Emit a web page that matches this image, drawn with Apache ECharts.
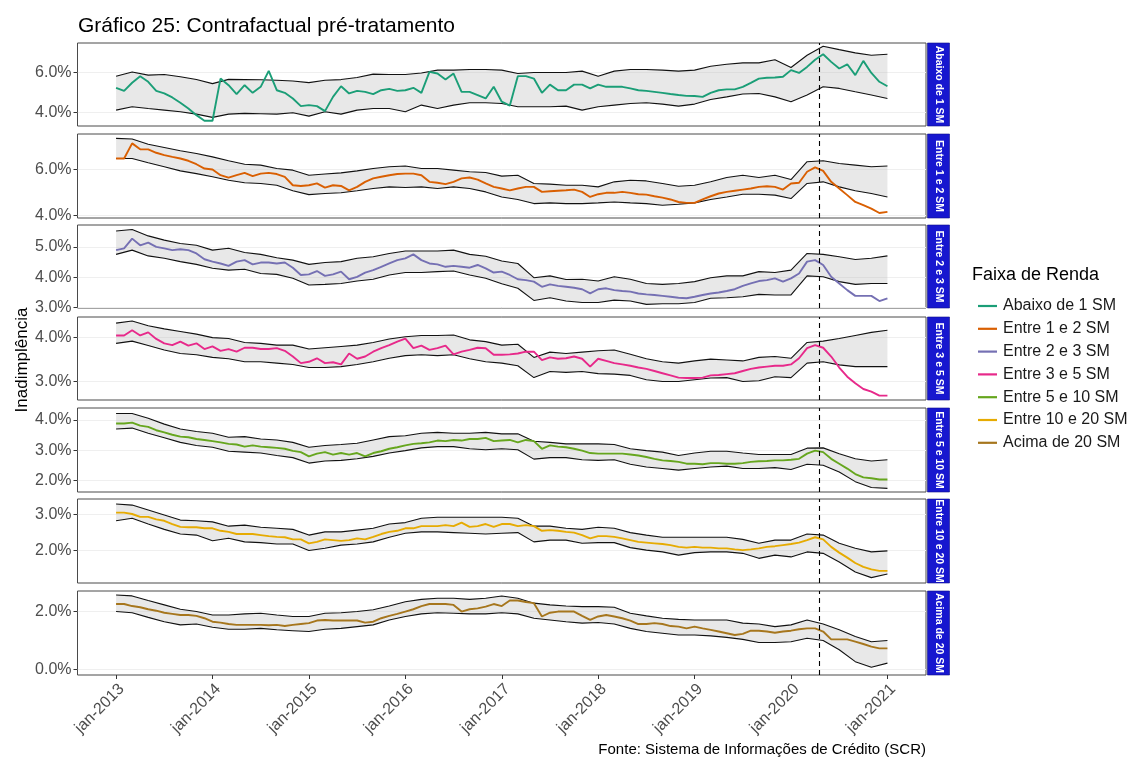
<!DOCTYPE html>
<html>
<head>
<meta charset="utf-8">
<script src="https://cdn.jsdelivr.net/npm/echarts@6/dist/echarts.min.js"></script>
<style>
  html, body { margin: 0; padding: 0; background: #ffffff; }
  #chart { width: 1128px; height: 758px; }
</style>
</head>
<body>
<div id="chart"></div>
<script>
// ---- Eixo temporal: meses desde jan-2013 (0..96) ----
const tickLabels = ['jan-2013', 'jan-2014', 'jan-2015', 'jan-2016', 'jan-2017',
                    'jan-2018', 'jan-2019', 'jan-2020', 'jan-2021'];
const mesTratamento = 87.5; // abril de 2020

const faixas = ['Abaixo de 1 SM', 'Entre 1 e 2 SM', 'Entre 2 e 3 SM', 'Entre 3 e 5 SM',
                'Entre 5 e 10 SM', 'Entre 10 e 20 SM', 'Acima de 20 SM'];
const cores = ['#1B9E77', '#D95F02', '#7570B3', '#E7298A', '#66A61E', '#E6AB02', '#A6761D'];

// ---- Inadimplência observada (%), mensal ----
const obsAbaixo1 = [
  5.24,5.09,5.49,5.82,5.54,5.09,4.96,4.76,4.50,4.21,3.88,3.60,
  3.60,5.70,5.37,4.93,5.37,4.99,5.29,6.08,5.12,4.99,4.71,4.33,
  4.38,4.33,4.08,4.79,5.32,4.96,5.09,5.04,4.93,5.12,5.19,5.09,
  5.12,5.24,4.99,6.03,5.95,5.65,5.95,5.04,5.04,4.88,4.71,5.29,
  4.55,4.35,5.82,5.82,5.70,4.99,5.40,5.12,5.12,5.40,5.40,5.21,
  5.40,5.29,5.29,5.29,5.21,5.12,5.09,5.04,4.99,4.93,4.88,4.84,
  4.83,4.79,4.99,5.12,5.16,5.16,5.29,5.49,5.70,5.74,5.75,5.79,
  6.12,5.98,6.28,6.64,6.91,6.53,6.20,6.41,5.87,6.58,5.98,5.54,5.32];
const obsEntre1e2 = [
  6.48,6.48,7.14,6.88,6.88,6.73,6.63,6.55,6.48,6.38,6.23,6.04,
  6.00,5.75,5.64,5.75,5.85,5.71,5.82,5.85,5.80,5.68,5.31,5.28,
  5.31,5.39,5.21,5.31,5.28,5.09,5.24,5.46,5.61,5.68,5.75,5.80,
  5.82,5.82,5.75,5.46,5.42,5.36,5.46,5.61,5.65,5.56,5.39,5.24,
  5.17,5.09,5.17,5.24,5.24,5.02,5.05,5.07,5.09,5.12,5.02,4.80,
  4.92,4.98,4.98,5.02,4.98,4.92,4.90,4.83,4.77,4.69,4.58,4.54,
  4.54,4.69,4.83,4.95,5.02,5.07,5.12,5.17,5.24,5.27,5.24,5.12,
  5.39,5.42,5.90,6.09,5.94,5.46,5.17,4.88,4.58,4.44,4.29,4.10,4.15];
const obsEntre2e3 = [
  4.89,4.95,5.27,5.05,5.14,5.00,4.95,4.89,4.92,4.89,4.78,4.59,
  4.51,4.45,4.37,4.51,4.56,4.42,4.48,4.48,4.45,4.48,4.31,4.07,
  4.09,4.20,4.04,4.09,4.18,3.93,4.01,4.15,4.23,4.34,4.45,4.56,
  4.62,4.75,4.56,4.45,4.42,4.34,4.37,4.34,4.31,4.40,4.29,4.15,
  4.18,4.07,3.93,3.90,3.85,3.68,3.76,3.71,3.68,3.65,3.60,3.46,
  3.60,3.63,3.57,3.54,3.52,3.46,3.43,3.41,3.38,3.35,3.32,3.30,
  3.35,3.41,3.46,3.49,3.54,3.60,3.71,3.79,3.87,3.90,3.96,3.85,
  3.96,4.12,4.51,4.56,4.40,4.01,3.79,3.57,3.38,3.38,3.38,3.21,3.30];
const obsEntre3e5 = [
  4.05,4.05,4.17,4.05,4.12,3.97,3.87,3.83,3.91,3.82,3.87,3.74,
  3.80,3.70,3.74,3.68,3.77,3.77,3.74,3.74,3.76,3.70,3.57,3.42,
  3.45,3.53,3.42,3.44,3.39,3.64,3.52,3.57,3.68,3.76,3.83,3.91,
  3.98,3.76,3.82,3.72,3.76,3.82,3.62,3.68,3.72,3.77,3.76,3.61,
  3.61,3.62,3.64,3.68,3.68,3.49,3.55,3.52,3.53,3.57,3.52,3.34,
  3.52,3.47,3.42,3.39,3.36,3.32,3.29,3.24,3.19,3.14,3.09,3.08,
  3.08,3.09,3.14,3.15,3.17,3.19,3.24,3.29,3.32,3.34,3.36,3.36,
  3.39,3.53,3.76,3.83,3.77,3.57,3.32,3.11,2.96,2.83,2.77,2.68,2.68];
const obsEntre5e10 = [
  3.88,3.88,3.91,3.81,3.77,3.66,3.59,3.51,3.45,3.43,3.37,3.34,
  3.30,3.26,3.21,3.19,3.12,3.16,3.12,3.10,3.08,3.05,2.98,2.94,
  2.80,2.89,2.94,2.86,2.91,2.86,2.91,2.80,2.91,2.97,3.05,3.10,
  3.16,3.21,3.23,3.26,3.32,3.30,3.34,3.32,3.37,3.37,3.41,3.30,
  3.32,3.34,3.26,3.34,3.30,3.05,3.16,3.12,3.10,3.05,2.99,2.91,
  2.89,2.89,2.89,2.89,2.86,2.83,2.78,2.72,2.67,2.65,2.62,2.56,
  2.56,2.54,2.58,2.58,2.56,2.56,2.58,2.62,2.64,2.65,2.67,2.67,
  2.69,2.72,2.89,2.99,2.94,2.72,2.56,2.40,2.22,2.11,2.08,2.04,2.04];
const obsEntre10e20 = [
  3.05,3.05,3.01,2.93,2.93,2.86,2.82,2.73,2.65,2.64,2.64,2.61,
  2.61,2.54,2.51,2.45,2.45,2.45,2.42,2.39,2.37,2.36,2.30,2.30,
  2.19,2.23,2.30,2.28,2.26,2.28,2.33,2.30,2.37,2.45,2.51,2.54,
  2.61,2.61,2.67,2.67,2.67,2.70,2.67,2.77,2.65,2.67,2.73,2.65,
  2.73,2.73,2.67,2.70,2.67,2.54,2.56,2.54,2.51,2.49,2.42,2.33,
  2.39,2.39,2.37,2.33,2.28,2.23,2.21,2.19,2.17,2.14,2.09,2.07,
  2.09,2.07,2.07,2.05,2.05,2.02,2.00,2.02,2.05,2.09,2.11,2.14,
  2.17,2.21,2.28,2.36,2.30,2.09,1.93,1.79,1.64,1.53,1.46,1.42,1.42];
const obsAcima20 = [
  2.25,2.25,2.18,2.14,2.07,2.02,1.95,1.91,1.87,1.87,1.84,1.76,
  1.64,1.61,1.56,1.53,1.53,1.53,1.53,1.52,1.53,1.49,1.53,1.56,
  1.59,1.68,1.70,1.68,1.68,1.68,1.68,1.61,1.64,1.76,1.84,1.91,
  1.99,2.07,2.18,2.25,2.25,2.25,2.22,1.99,2.07,2.10,2.16,2.25,
  2.18,2.37,2.37,2.32,2.28,1.82,1.95,1.99,1.99,1.99,1.84,1.70,
  1.82,1.87,1.82,1.76,1.68,1.56,1.56,1.59,1.56,1.49,1.47,1.41,
  1.47,1.41,1.36,1.30,1.24,1.18,1.22,1.33,1.33,1.30,1.26,1.30,
  1.33,1.38,1.41,1.41,1.30,1.03,1.03,1.03,0.95,0.87,0.78,0.72,0.72];

// ---- Contrafactual: limites superior e inferior (%), a cada dois meses ----
const passoBanda = 2;
const supAbaixo1 = [5.82,6.03,5.87,5.90,5.79,5.65,5.45,5.66,5.65,5.64, 5.62,5.58,5.50,5.62,5.65,5.75,5.92,5.90,5.90,5.98,
  6.12,6.12,6.15,6.15,6.12,5.95,6.00,6.00,6.00,6.07, 5.82,6.07,6.15,6.15,6.12,6.07,6.12,6.31,6.41,6.48,
  6.48,6.64,6.25,6.86,7.31,7.14,6.98,6.86,6.91];
const infAbaixo1 = [4.13,4.30,4.21,4.13,4.05,3.93,3.77,3.93,3.97,3.95, 3.93,4.00,3.83,4.05,3.93,4.13,4.21,4.21,4.05,4.38,
  4.21,4.38,4.50,4.50,4.46,4.30,4.30,4.30,4.33,4.13, 4.30,4.38,4.46,4.50,4.43,4.33,4.43,4.66,4.79,4.93,
  4.96,4.79,4.55,4.88,5.29,5.21,5.04,4.88,4.71];
const supEntre1e2 = [7.36,7.33,7.10,6.96,6.82,6.70,6.55,6.38,6.23,6.19, 6.04,5.97,5.75,5.80,5.85,5.94,6.04,6.12,6.15,6.04,
  6.04,5.97,5.90,5.87,5.71,5.75,5.39,5.36,5.31,5.31, 5.24,5.46,5.53,5.50,5.39,5.27,5.31,5.46,5.65,5.75,
  5.65,5.75,5.56,6.34,6.38,6.26,6.19,6.12,6.15];
const infEntre1e2 = [6.48,6.48,6.29,6.12,5.94,5.82,5.68,5.53,5.42,5.39, 5.31,5.07,4.90,4.95,4.98,5.07,5.17,5.24,5.21,5.24,
  5.17,5.24,5.17,5.02,4.80,4.69,4.51,4.54,4.51,4.51, 4.54,4.58,4.54,4.51,4.44,4.48,4.54,4.69,4.80,4.92,
  4.92,4.88,4.73,5.39,5.46,5.24,5.07,4.95,4.80];
const supEntre2e3 = [5.52,5.57,5.36,5.22,5.11,5.05,4.89,4.95,4.81,4.75, 4.64,4.56,4.42,4.48,4.51,4.62,4.67,4.78,4.86,4.86,
  4.86,4.89,4.75,4.69,4.53,4.45,3.98,4.04,3.92,3.93, 3.87,4.01,3.93,3.79,3.76,3.79,3.85,3.98,4.04,4.04,
  4.18,4.15,4.23,4.78,4.75,4.67,4.58,4.62,4.70];
const infEntre2e3 = [4.75,4.89,4.70,4.62,4.51,4.42,4.29,4.23,4.26,4.12, 4.09,3.96,3.74,3.76,3.79,3.87,3.93,4.07,4.15,4.15,
  4.18,4.20,4.07,3.96,3.78,3.63,3.23,3.32,3.21,3.16, 3.16,3.24,3.21,3.10,3.12,3.12,3.16,3.30,3.32,3.35,
  3.43,3.41,3.41,4.04,4.01,3.85,3.76,3.79,3.79];
const supEntre3e5 = [4.33,4.38,4.27,4.20,4.14,4.08,4.00,3.98,3.89,3.87, 3.83,3.83,3.74,3.77,3.80,3.83,3.89,3.97,4.02,4.05,
  4.05,4.06,3.95,3.91,3.83,3.85,3.55,3.67,3.64,3.67, 3.70,3.72,3.62,3.52,3.45,3.42,3.47,3.51,3.49,3.47,
  3.55,3.57,3.53,3.89,3.92,3.98,4.05,4.12,4.17];
const infEntre3e5 = [3.87,3.92,3.82,3.72,3.64,3.61,3.55,3.52,3.45,3.45, 3.42,3.39,3.32,3.32,3.34,3.39,3.45,3.53,3.59,3.61,
  3.59,3.61,3.52,3.45,3.42,3.36,3.09,3.23,3.21,3.23, 3.18,3.17,3.14,3.04,3.00,3.00,3.04,3.08,3.09,3.00,
  3.02,3.11,3.09,3.42,3.45,3.38,3.34,3.34,3.34];
const supEntre5e10 = [4.21,4.21,4.05,3.86,3.70,3.62,3.56,3.43,3.45,3.37, 3.34,3.26,3.10,3.16,3.19,3.23,3.34,3.45,3.48,3.56,
  3.59,3.56,3.56,3.59,3.54,3.54,3.30,3.26,3.21,3.21, 3.21,3.19,3.05,2.99,2.94,2.83,2.91,2.97,2.97,2.91,
  2.86,2.86,2.86,3.07,3.08,2.89,2.72,2.65,2.69];
const infEntre5e10 = [3.70,3.73,3.56,3.41,3.26,3.16,3.10,2.97,2.94,2.91, 2.83,2.76,2.58,2.65,2.67,2.72,2.80,2.91,2.99,3.08,
  3.12,3.12,3.05,3.02,3.05,3.02,2.71,2.76,2.76,2.69, 2.67,2.69,2.54,2.45,2.40,2.35,2.40,2.45,2.48,2.40,
  2.40,2.43,2.37,2.54,2.51,2.29,1.97,1.78,1.75];
const supEntre10e20 = [3.29,3.26,3.12,2.98,2.84,2.82,2.79,2.67,2.70,2.64, 2.61,2.58,2.42,2.51,2.51,2.56,2.61,2.73,2.77,2.89,
  2.92,2.92,2.92,2.92,2.92,2.89,2.67,2.67,2.61,2.58, 2.64,2.61,2.49,2.42,2.36,2.36,2.36,2.36,2.36,2.30,
  2.19,2.28,2.28,2.45,2.42,2.19,2.05,1.95,1.98];
const infEntre10e20 = [2.82,2.89,2.73,2.58,2.45,2.42,2.26,2.33,2.23,2.21, 2.17,2.17,1.99,2.05,2.14,2.17,2.23,2.36,2.47,2.51,
  2.51,2.49,2.47,2.45,2.47,2.49,2.23,2.28,2.28,2.19, 2.21,2.21,2.07,2.00,1.95,1.86,1.93,1.95,1.95,1.91,
  1.77,1.86,1.81,1.95,1.91,1.67,1.39,1.23,1.33];
const supAcima20 = [2.56,2.53,2.37,2.22,2.07,1.99,1.87,1.87,1.91,1.93, 1.87,1.82,1.82,1.93,1.95,1.99,2.05,2.18,2.33,2.41,
  2.45,2.45,2.41,2.45,2.53,2.45,2.28,2.22,2.18,2.16, 2.16,2.14,1.93,1.84,1.76,1.72,1.70,1.70,1.70,1.59,
  1.56,1.47,1.53,1.70,1.56,1.36,1.13,0.95,0.99];
const infAcima20 = [1.99,1.95,1.79,1.64,1.53,1.56,1.45,1.38,1.38,1.41, 1.36,1.33,1.30,1.38,1.41,1.47,1.53,1.70,1.82,1.91,
  1.95,1.93,1.91,1.91,1.95,1.91,1.76,1.70,1.64,1.59, 1.61,1.56,1.41,1.30,1.24,1.18,1.18,1.15,1.10,1.03,
  0.92,0.92,0.95,1.07,0.99,0.67,0.26,0.07,0.21];

// ---- Escalas verticais de cada painel ----
const yTicks = [[4, 6], [4, 6], [3, 4, 5], [3, 4], [2, 3, 4], [2, 3], [0, 2]];
const yRange = [[3.34, 7.47], [3.88, 7.55], [2.98, 5.72], [2.58, 4.47], [1.63, 4.39], [1.08, 3.43], [-0.2, 2.70]];

const observado = [obsAbaixo1, obsEntre1e2, obsEntre2e3, obsEntre3e5, obsEntre5e10, obsEntre10e20, obsAcima20];
const superior  = [supAbaixo1, supEntre1e2, supEntre2e3, supEntre3e5, supEntre5e10, supEntre10e20, supAcima20];
const inferior  = [infAbaixo1, infEntre1e2, infEntre2e3, infEntre3e5, infEntre5e10, infEntre10e20, infAcima20];

// ---- Layout dos painéis ----
const FONT = '"Liberation Sans", Arial, Helvetica, sans-serif';
const plotLeft = 77.5, plotWidth = 848.5;
const panelTop = [43, 134, 225, 317, 408, 499, 591];
const panelHeight = [83, 84, 83, 83, 84, 84, 84];
const nPanels = faixas.length;
const tickPos = tickLabels.map((_, i) => i * 12);

const grids = [], xAxes = [], yAxes = [], series = [], graphics = [];

for (let k = 0; k < nPanels; k++) {
  const last = k === nPanels - 1;
  grids.push({
    left: plotLeft, width: plotWidth, top: panelTop[k], height: panelHeight[k],
    show: true, backgroundColor: '#ffffff', borderColor: '#4a4a4a', borderWidth: 1
  });
  xAxes.push({
    type: 'value', gridIndex: k, min: -4.8, max: 100.8, position: 'bottom',
    axisLine: { show: false, onZero: false },
    splitLine: { show: false },
    axisTick: { show: last, customValues: tickPos, length: 4, lineStyle: { color: '#333333' } },
    axisLabel: {
      show: last, customValues: tickPos, rotate: 45, margin: 6,
      align: 'right', verticalAlign: 'top',
      formatter: v => tickLabels[Math.round(v / 12)],
      fontFamily: FONT, fontSize: 16, color: '#4d4d4d'
    }
  });
  yAxes.push({
    type: 'value', gridIndex: k, min: yRange[k][0], max: yRange[k][1], position: 'left',
    axisLine: { show: false, onZero: false },
    axisTick: { show: true, customValues: yTicks[k], length: 4, lineStyle: { color: '#333333' } },
    axisLabel: {
      customValues: yTicks[k], margin: 6,
      formatter: v => v.toFixed(1) + '%',
      fontFamily: FONT, fontSize: 16, color: '#4d4d4d'
    },
    splitLine: { show: true, lineStyle: { color: '#efefef', width: 1 } }
  });

  const lo = inferior[k], hi = superior[k];
  const bandX = j => j * passoBanda;

  // faixa cinza entre os limites do contrafactual
  series.push({
    type: 'custom', xAxisIndex: k, yAxisIndex: k, silent: true, clip: true, z: 1,
    data: [[0, yRange[k][0]]],
    renderItem: (params, api) => {
      const pts = [];
      for (let j = 0; j < lo.length; j++) pts.push(api.coord([bandX(j), lo[j]]));
      for (let j = hi.length - 1; j >= 0; j--) pts.push(api.coord([bandX(j), hi[j]]));
      return { type: 'polygon', shape: { points: pts }, style: { fill: 'rgba(185,185,185,0.32)' } };
    }
  });
  // limites inferior e superior
  [lo, hi].forEach(arr => {
    series.push({
      type: 'line', xAxisIndex: k, yAxisIndex: k,
      data: arr.map((v, j) => [bandX(j), v]), symbol: 'none', silent: true,
      lineStyle: { color: '#111111', width: 1.1 }, z: 2
    });
  });
  // série observada
  series.push({
    name: faixas[k], type: 'line', xAxisIndex: k, yAxisIndex: k,
    data: observado[k].map((v, i) => [i, v]), symbol: 'none',
    color: cores[k], lineStyle: { color: cores[k], width: 1.9 }, z: 3,
    markLine: {
      silent: true, symbol: 'none', label: { show: false },
      lineStyle: { color: '#000000', width: 1.1, type: [5, 4] },
      data: [{ xAxis: mesTratamento }]
    }
  });

  // faixa lateral com o nome do painel
  const stripX = plotLeft + plotWidth + 1.5, stripW = 22;
  graphics.push({
    type: 'rect', shape: { x: stripX, y: panelTop[k], width: stripW, height: panelHeight[k] },
    style: { fill: '#1717cf', stroke: '#0d0d8a', lineWidth: 0.6 }
  });
  graphics.push({
    type: 'text', x: stripX + stripW / 2, y: panelTop[k] + panelHeight[k] / 2, rotation: -Math.PI / 2,
    style: {
      text: faixas[k], fill: '#ffffff', font: 'bold 10.5px ' + FONT,
      textAlign: 'center', textVerticalAlign: 'middle', align: 'center', verticalAlign: 'middle'
    }
  });
}

// títulos e textos
graphics.push({
  type: 'text', x: 78, y: 26,
  style: { text: 'Gráfico 25: Contrafactual pré-tratamento', fill: '#000000', font: '21px ' + FONT,
           textAlign: 'left', textVerticalAlign: 'middle', align: 'left', verticalAlign: 'middle' }
});
graphics.push({
  type: 'text', x: 22, y: 360, rotation: Math.PI / 2,
  style: { text: 'Inadimplência', fill: '#000000', font: '17px ' + FONT,
           textAlign: 'center', textVerticalAlign: 'middle', align: 'center', verticalAlign: 'middle' }
});
graphics.push({
  type: 'text', x: 972, y: 275,
  style: { text: 'Faixa de Renda', fill: '#000000', font: '18px ' + FONT,
           textAlign: 'left', textVerticalAlign: 'middle', align: 'left', verticalAlign: 'middle' }
});
graphics.push({
  type: 'text', x: 926, y: 750,
  style: { text: 'Fonte: Sistema de Informações de Crédito (SCR)', fill: '#000000', font: '15px ' + FONT,
           textAlign: 'right', textVerticalAlign: 'middle', align: 'right', verticalAlign: 'middle' }
});

const chart = echarts.init(document.getElementById('chart'), null, { renderer: 'canvas' });
chart.setOption({
  animation: false,
  backgroundColor: '#ffffff',
  grid: grids,
  xAxis: xAxes,
  yAxis: yAxes,
  legend: {
    data: faixas, orient: 'vertical', left: 973, top: 293,
    icon: 'rect', itemWidth: 19, itemHeight: 2.2, itemGap: 6.8, selectedMode: false,
    textStyle: { fontFamily: FONT, fontSize: 16, lineHeight: 16, color: '#1a1a1a', padding: [0, 0, 0, 1] }
  },
  series: series,
  graphic: graphics
});
</script>
</body>
</html>
